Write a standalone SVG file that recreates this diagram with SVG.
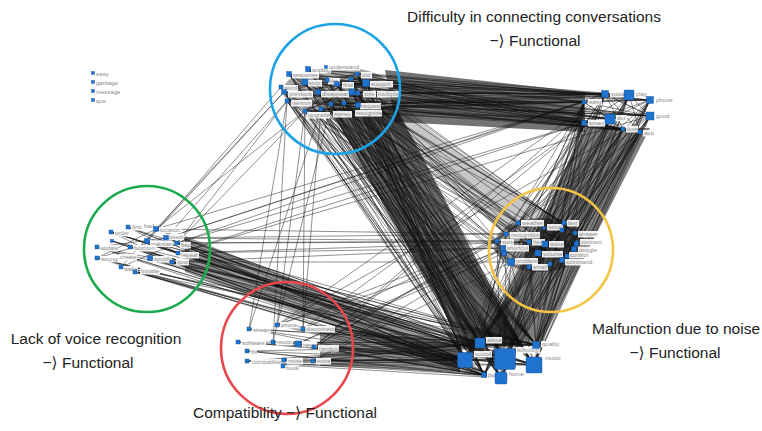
<svg xmlns="http://www.w3.org/2000/svg" width="762" height="431" viewBox="0 0 762 431">
<style>
.e{fill:none;stroke:#111;stroke-width:.55;stroke-opacity:.85;stroke-linejoin:bevel}
.d{fill:#000;stroke:none}
.n{fill:#1f73cf;stroke:#134f93;stroke-width:.4}
.lb{fill:#fff;fill-opacity:.92}
.t{font-family:"Liberation Sans",Arial,sans-serif;font-size:6px;fill:#8a8a8a}
.h{font-family:"Liberation Sans","DejaVu Sans","Noto Sans CJK KR",sans-serif;font-size:15.5px;fill:#222;text-anchor:middle}
.c{fill:none;stroke-width:2.6}
</style>
<rect width="762" height="431" fill="#fff"/>
<g id="connectors">
<path class="d" opacity=".55" d="M385 70L585 92L585 132L395 122Z"/>
<path class="d" opacity=".6" d="M332 112L395 105L522 345L464 348Z"/>
<path class="d" opacity=".5" d="M585 128L650 128L540 345L482 345Z"/>
<path class="d" opacity=".22" d="M370 112L405 112L560 225L500 230Z"/>
<path class="d" opacity=".4" d="M185 236L460 345L460 372L185 272Z"/>
<path class="d" opacity=".42" d="M320 325L460 345L460 372L320 366Z"/>
<ellipse class="d" opacity=".4" cx="540" cy="245" rx="46" ry="27"/>
<ellipse class="d" opacity=".35" cx="338" cy="91" rx="55" ry="24"/>
<path class="e" d="M305 82L465 360 327 80 480 343 337 84 505 359 351 79 534 365 366 83 501 378 318 92 536 345 352 92 484 375 358 92 465 360 331 104 480 343 344 103 505 359 358 105 534 365 305 111 501 378 321 109 536 345 287 101 484 375 284 92 465 360 289 74 480 343 308 69 505 359 357 74 534 365 305 82 501 378 327 80 536 345 337 84 484 375 351 79 465 360 366 83 480 343 318 92 505 359 352 92 534 365 358 92 501 378 331 104 536 345 344 103 484 375 358 105 465 360 305 111 480 343 321 109 505 359 287 101 534 365 284 92 501 378 289 74 536 345 308 69 484 375 357 74 465 360 305 82 480 343 327 80 505 359 337 84 534 365 351 79 501 378 366 83 536 345 318 92 484 375 352 92 465 360 358 92 480 343 331 104 505 359 344 103 534 365 358 105 501 378 305 111 536 345 321 109 484 375 287 101 465 360 284 92 480 343 289 74 505 359 308 69 534 365 357 74 501 378"/>
<path class="e" d="M605 94L465 360 629 95 480 343 650 100 505 359 584 102 534 365 650 116 501 378 584 123 536 345 610 119 484 375 623 129 465 360 640 132 480 343 605 94 505 359 629 95 534 365 650 100 501 378 584 102 536 345 650 116 484 375 584 123 465 360 610 119 480 343 623 129 505 359 640 132 534 365 605 94 501 378 629 95 536 345 650 100 484 375 584 102 465 360 650 116 480 343 584 123 505 359 610 119 534 365 623 129 501 378 640 132 536 345"/>
<path class="e" d="M305 82L605 94 327 80 629 95 337 84 650 100 351 79 584 102 366 83 650 116 318 92 584 123 352 92 610 119 358 92 623 129 331 104 640 132 344 103 605 94 358 105 629 95 305 111 650 100 321 109 584 102 287 101 650 116 284 92 584 123 289 74 610 119 308 69 623 129 357 74 640 132 305 82 650 116 327 80 584 123 337 84 610 119 351 79 623 129 366 83 640 132 318 92 605 94 352 92 629 95 358 92 650 100 331 104 584 102 344 103 650 116 358 105 584 123 305 111 610 119 321 109 623 129 287 101 640 132 284 92 605 94 289 74 629 95 308 69 650 100 357 74 584 102"/>
<path class="e" d="M305 82L518 223 327 80 564 223 337 84 506 234 351 79 575 233 366 83 497 241 318 92 529 242 352 92 545 244 358 92 574 249 331 104 503 248 344 103 538 253 358 105 567 256 305 111 511 262 321 109 562 260 287 101 529 267 284 92 518 223 289 74 564 223 308 69 506 234 357 74 575 233"/>
<path class="e" d="M605 94L518 223 629 95 564 223 650 100 506 234 584 102 575 233 650 116 497 241 584 123 529 242 610 119 545 244 623 129 574 249 640 132 503 248 605 94 538 253 629 95 567 256 650 100 511 262 584 102 562 260 650 116 529 267 584 123 518 223 610 119 564 223 623 129 506 234 640 132 575 233"/>
<path class="e" d="M518 223L465 360 564 223 480 343 506 234 505 359 575 233 534 365 497 241 501 378 529 242 536 345 545 244 484 375 574 249 465 360 503 248 480 343 538 253 505 359 567 256 534 365 511 262 501 378 562 260 536 345 529 267 484 375"/>
<path class="e" d="M128 227L465 360 156 229 480 343 111 232 505 359 166 238 534 365 112 241 501 378 147 241 536 345 177 243 484 375 97 247 465 360 130 247 480 343 178 253 505 359 97 258 534 365 150 258 501 378 172 262 536 345 121 267 484 375 135 272 465 360 128 227 480 343 156 229 505 359 111 232 534 365 166 238 501 378 112 241 536 345 147 241 484 375 177 243 465 360 97 247 480 343 130 247 505 359 178 253 534 365 97 258 501 378 150 258 536 345 172 262 484 375 121 267 465 360 135 272 480 343"/>
<path class="e" d="M156 229L506 234 166 238 497 241 177 243 529 242 178 253 503 248 172 262 511 262"/>
<path class="e" d="M166 238L287 101 177 243 305 111 156 229 284 92 147 241 281 87"/>
<path class="e" d="M156 229L584 102 166 238 605 94 177 243 584 123 178 253 650 116"/>
<path class="e" d="M277 325L465 360 249 329 480 343 303 329 505 359 238 342 534 365 273 342 501 378 297 344 536 345 314 347 484 375 247 351 465 360 247 361 480 343 284 360 505 359 313 361 534 365 283 365 501 378 277 325 536 345 249 329 484 375 303 329 465 360 238 342 480 343 273 342 505 359 297 344 534 365 314 347 501 378 247 351 536 345 247 361 484 375 284 360 465 360 313 361 480 343 283 365 505 359"/>
<path class="e" d="M303 329L506 234 314 347 497 241 277 325 529 242 297 344 503 248 313 361 511 262"/>
<path class="e" d="M303 329L584 123 314 347 605 94 277 325 650 116"/>
<path class="e" d="M277 325L305 111 303 329 321 109 249 329 287 101 273 342 331 104"/>
<path class="e" d="M289 74L358 105 308 69 344 103 305 82 366 83 284 92 357 74 287 101 352 92 305 111 337 84 281 87 366 83 318 92 358 92 321 109 351 79 331 104 289 74 366 83 305 111 357 74 281 87 344 103 308 69 358 92"/>
<path class="e" d="M584 102L650 116 605 94 640 132 629 95 584 123 650 100 610 119 584 102 623 129 605 94 650 116 629 95"/>
<path class="e" d="M518 223L567 256 564 223 503 248 506 234 574 249 575 233 511 262 497 241 562 260 529 242 575 233 545 244 497 241 538 253 564 223 529 267 518 223 576 244 504 253 562 230 511 262 567 256 497 241"/>
<path class="e" d="M128 227L178 253 111 232 172 262 97 247 166 238 97 258 156 229 121 267 177 243"/>
</g>
<g id="n-easy0"><rect class="n" x="91.5" y="71.5" width="3" height="3"/><text class="t" x="96" y="75.5">easy</text></g>
<g id="n-garbage"><rect class="n" x="91.5" y="80.5" width="3" height="3"/><text class="t" x="96" y="84.5">garbage</text></g>
<g id="n-message"><rect class="n" x="91.5" y="89.5" width="3" height="3"/><text class="t" x="96" y="93.5">message</text></g>
<g id="n-que"><rect class="n" x="91.5" y="98.5" width="3" height="3"/><text class="t" x="96" y="102.5">que</text></g>

<g id="n-unplug"><rect class="lb" x="311" y="67" width="20" height="6.5"/><rect class="n" x="305.5" y="66.5" width="5" height="5"/><text class="t" x="312" y="72">unplug</text></g>
<g id="n-understand"><rect class="lb" x="328" y="64" width="32" height="6.5"/><rect class="n" x="324.5" y="65.5" width="3" height="3"/><text class="t" x="329" y="69">understand</text></g>
<g id="n-response"><rect class="lb" x="292" y="72" width="27" height="6.5"/><rect class="n" x="286.5" y="71.5" width="5" height="5"/><text class="t" x="293" y="77">response</text></g>
<g id="n-stop"><rect class="lb" x="308" y="80" width="14" height="6.5"/><rect class="n" x="302" y="79" width="6" height="6"/><text class="t" x="309" y="85">stop</text></g>
<g id="n-like"><rect class="lb" x="328" y="78" width="12" height="6.5"/><rect class="n" x="325" y="78" width="4" height="4"/><text class="t" x="329" y="83">like</text></g>
<g id="n-word"><rect class="lb" x="283" y="85" width="15" height="6.5"/><rect class="n" x="279" y="85" width="4" height="4"/><text class="t" x="284" y="90">word</text></g>
<g id="n-find"><rect class="lb" x="342" y="82" width="12" height="6.5"/><rect class="n" x="334.5" y="81.5" width="5" height="5"/><text class="t" x="343" y="87">find</text></g>
<g id="n-old"><rect class="lb" x="361" y="72" width="11" height="6.5"/><rect class="n" x="355" y="72" width="4" height="4"/><text class="t" x="362" y="77">old</text></g>
<g id="n-b1"><rect class="n" x="349" y="77" width="4" height="4"/></g>
<g id="n-support"><rect class="lb" x="370" y="81" width="23" height="6.5"/><rect class="n" x="362.5" y="79.5" width="7" height="7"/><text class="t" x="371" y="86">support</text></g>
<g id="n-previous"><rect class="lb" x="288" y="91" width="25" height="6.5"/><rect class="n" x="281.5" y="89.5" width="5" height="5"/><text class="t" x="289" y="96">previous</text></g>
<g id="n-disappear"><rect class="lb" x="321" y="91" width="28" height="6.5"/><rect class="n" x="315.5" y="89.5" width="5" height="5"/><text class="t" x="322" y="96">disappear</text></g>
<g id="n-b2"><rect class="n" x="349" y="89" width="6" height="6"/></g>
<g id="n-size"><rect class="lb" x="363" y="91" width="13" height="6.5"/><rect class="n" x="356" y="91" width="4" height="4"/><text class="t" x="364" y="96">size</text></g>
<g id="n-multiple"><rect class="lb" x="377" y="91" width="23" height="6.5"/><text class="t" x="378" y="96">multiple</text></g>
<g id="n-version"><rect class="lb" x="291" y="100" width="21" height="6.5"/><rect class="n" x="285" y="99" width="4" height="4"/><text class="t" x="292" y="105">version</text></g>
<g id="n-b3"><rect class="n" x="329" y="102" width="4" height="4"/></g>
<g id="n-b4"><rect class="n" x="342" y="101" width="4" height="4"/></g>
<g id="n-request"><rect class="lb" x="360" y="103" width="21" height="6.5"/><rect class="n" x="355.5" y="102.5" width="5" height="5"/><text class="t" x="361" y="108">request</text></g>
<g id="n-upgrade"><rect class="lb" x="307" y="112" width="23" height="6.5"/><rect class="n" x="303" y="109" width="4" height="4"/><text class="t" x="308" y="117">upgrade</text></g>
<g id="n-stereo"><rect class="lb" x="333" y="111" width="19" height="6.5"/><rect class="n" x="319" y="107" width="4" height="4"/><text class="t" x="334" y="116">stereo</text></g>
<g id="n-recognize"><rect class="lb" x="355" y="110" width="27" height="6.5"/><text class="t" x="356" y="115">recognize</text></g>

<g id="n-voice"><rect class="lb" x="610" y="91" width="16" height="6.5"/><rect class="n" x="601.5" y="90.5" width="7" height="7"/><text class="t" x="611" y="96">voice</text></g>
<g id="n-play"><rect class="lb" x="635" y="91" width="13" height="6.5"/><rect class="n" x="624" y="90" width="10" height="10" rx="1"/><text class="t" x="636" y="96">play</text></g>
<g id="n-phone"><rect class="lb" x="655" y="97" width="18" height="6.5"/><rect class="n" x="646.5" y="96.5" width="7" height="7"/><text class="t" x="656" y="102">phone</text></g>
<g id="n-easy"><rect class="lb" x="588" y="99" width="14" height="6.5"/><rect class="n" x="582" y="100" width="4" height="4"/><text class="t" x="589" y="104">easy</text></g>
<g id="n-good"><rect class="lb" x="655" y="113" width="15" height="6.5"/><rect class="n" x="646" y="112" width="8" height="8"/><text class="t" x="656" y="118">good</text></g>
<g id="n-smart"><rect class="lb" x="588" y="120" width="17" height="6.5"/><rect class="n" x="581.5" y="120.5" width="5" height="5"/><text class="t" x="589" y="125">smart</text></g>
<g id="n-dot"><rect class="lb" x="616" y="115" width="11" height="6.5"/><rect class="n" x="605" y="114" width="10" height="10" rx="1"/><text class="t" x="617" y="120">dot</text></g>
<g id="n-love"><rect class="lb" x="626" y="126" width="12" height="6.5"/><rect class="n" x="621" y="127" width="4" height="4"/><text class="t" x="627" y="131">love</text></g>
<g id="n-app"><rect class="lb" x="643" y="130" width="12" height="6.5"/><rect class="n" x="638" y="130" width="4" height="4"/><text class="t" x="644" y="135">app</text></g>

<g id="n-weather"><rect class="lb" x="521" y="220" width="23" height="6.5"/><rect class="n" x="516" y="221" width="4" height="4"/><text class="t" x="522" y="225">weather</text></g>
<g id="n-setup"><rect class="lb" x="547" y="224" width="16" height="6.5"/><rect class="n" x="542.5" y="226.5" width="3" height="3"/><text class="t" x="548" y="229">setup</text></g>
<g id="n-last"><rect class="lb" x="567" y="220" width="12" height="6.5"/><rect class="n" x="562" y="221" width="4" height="4"/><text class="t" x="568" y="225">last</text></g>
<g id="n-y1"><rect class="n" x="560" y="228" width="4" height="4"/></g>
<g id="n-recognition"><rect class="lb" x="510" y="232" width="30" height="6.5"/><rect class="n" x="504" y="232" width="4" height="4"/><text class="t" x="511" y="237">recognition</text></g>
<g id="n-answer"><rect class="lb" x="578" y="231" width="20" height="6.5"/><rect class="n" x="573" y="231" width="4" height="4"/><text class="t" x="579" y="236">answer</text></g>
<g id="n-connect"><rect class="lb" x="580" y="239" width="21" height="6.5"/><rect class="n" x="575.5" y="240.5" width="3" height="3"/><text class="t" x="581" y="244">connect</text></g>
<g id="n-sure"><rect class="lb" x="501" y="239" width="13" height="6.5"/><rect class="n" x="495" y="239" width="4" height="4"/><text class="t" x="502" y="244">sure</text></g>
<g id="n-hear"><rect class="lb" x="532" y="239" width="13" height="6.5"/><rect class="n" x="527" y="240" width="4" height="4"/><text class="t" x="533" y="244">hear</text></g>
<g id="n-issue"><rect class="lb" x="549" y="241" width="15" height="6.5"/><rect class="n" x="542" y="241" width="6" height="6"/><text class="t" x="550" y="246">issue</text></g>
<g id="n-y2"><rect class="n" x="574" y="242" width="4" height="4"/></g>
<g id="n-google"><rect class="lb" x="578" y="246.5" width="19" height="6.5"/><rect class="n" x="571.5" y="246.5" width="5" height="5"/><text class="t" x="579" y="251.5">google</text></g>
<g id="n-shortcut"><rect class="lb" x="506" y="245" width="23" height="6.5"/><rect class="n" x="500.5" y="245.5" width="5" height="5"/><text class="t" x="507" y="250">shortcut</text></g>
<g id="n-y3"><rect class="n" x="501.5" y="250.5" width="5" height="5"/></g>
<g id="n-volume"><rect class="lb" x="542" y="251" width="21" height="6.5"/><rect class="n" x="535" y="250" width="6" height="6"/><text class="t" x="543" y="256">volume</text></g>
<g id="n-control"><rect class="lb" x="569" y="252" width="20" height="6.5"/><rect class="n" x="565" y="254" width="4" height="4"/><text class="t" x="570" y="257">control</text></g>
<g id="n-problem"><rect class="lb" x="515" y="258" width="23" height="6.5"/><rect class="n" x="507.5" y="258.5" width="7" height="7"/><text class="t" x="516" y="263">problem</text></g>
<g id="n-command"><rect class="lb" x="565" y="259" width="26" height="6.5"/><rect class="n" x="559.5" y="257.5" width="5" height="5"/><text class="t" x="566" y="264">command</text></g>
<g id="n-small"><rect class="lb" x="532" y="264" width="16" height="6.5"/><rect class="n" x="527" y="265" width="4" height="4"/><text class="t" x="533" y="269">small</text></g>
<g id="n-y4"><rect class="n" x="548" y="262" width="4" height="4"/></g>

<g id="n-first"><rect class="lb" x="131" y="224" width="11" height="6.5"/><rect class="n" x="126" y="225" width="4" height="4"/><text class="t" x="132" y="229">first</text></g>
<g id="n-had"><rect class="lb" x="143" y="223" width="11" height="6.5"/><text class="t" x="144" y="228">had</text></g>
<g id="n-location"><rect class="lb" x="159" y="227" width="23" height="6.5"/><rect class="n" x="153.5" y="226.5" width="5" height="5"/><text class="t" x="160" y="232">location</text></g>
<g id="n-order"><rect class="lb" x="114" y="230" width="16" height="6.5"/><rect class="n" x="109" y="230" width="4" height="4"/><text class="t" x="115" y="235">order</text></g>
<g id="n-touch"><rect class="lb" x="168" y="234" width="16" height="6"/><rect class="n" x="163.5" y="235.5" width="5" height="5"/><text class="t" x="169" y="238.5">touch</text></g>
<g id="n-g1"><rect class="n" x="110.5" y="239.5" width="3" height="3"/></g>
<g id="n-maintain"><rect class="lb" x="150" y="240.5" width="23" height="6.5"/><rect class="n" x="144.5" y="238.5" width="5" height="5"/><text class="t" x="151" y="245.5">maintain</text></g>
<g id="n-bad"><rect class="lb" x="180" y="242" width="11" height="6.5"/><rect class="n" x="175" y="241" width="4" height="4"/><text class="t" x="181" y="247">bad</text></g>
<g id="n-update"><rect class="lb" x="99" y="245" width="19" height="6.5"/><rect class="n" x="95" y="245" width="4" height="4"/><text class="t" x="100" y="250">update</text></g>
<g id="n-function"><rect class="lb" x="133" y="245" width="23" height="6.5"/><rect class="n" x="128" y="245" width="4" height="4"/><text class="t" x="134" y="250">function</text></g>
<g id="n-repeat"><rect class="lb" x="180" y="252" width="19" height="6.5"/><rect class="n" x="176" y="251" width="4" height="4"/><text class="t" x="181" y="257">repeat</text></g>
<g id="n-wrong"><rect class="lb" x="100" y="256" width="17" height="6.5"/><rect class="n" x="95" y="256" width="4" height="4"/><text class="t" x="101" y="261">wrong</text></g>
<g id="n-create"><rect class="lb" x="119" y="254" width="18" height="6.5"/><text class="t" x="120" y="259">create</text></g>
<g id="n-spotify"><rect class="lb" x="153" y="256" width="19" height="6.5"/><rect class="n" x="147.5" y="255.5" width="5" height="5"/><text class="t" x="154" y="261">spotify</text></g>
<g id="n-poor"><rect class="lb" x="176" y="259" width="13" height="6.5"/><rect class="n" x="170" y="260" width="4" height="4"/><text class="t" x="177" y="264">poor</text></g>
<g id="n-wake"><rect class="lb" x="123" y="266" width="15" height="6.5"/><rect class="n" x="119" y="265" width="4" height="4"/><text class="t" x="124" y="271">wake</text></g>
<g id="n-trouble"><rect class="lb" x="140" y="268" width="20" height="6.5"/><rect class="n" x="133" y="270" width="4" height="4"/><text class="t" x="141" y="273">trouble</text></g>

<g id="n-phone2"><rect class="lb" x="280" y="322" width="18" height="6.5"/><rect class="n" x="275" y="323" width="4" height="4"/><text class="t" x="281" y="327">phone</text></g>
<g id="n-stream"><rect class="lb" x="252" y="327" width="19" height="6.5"/><rect class="n" x="247" y="327" width="4" height="4"/><text class="t" x="253" y="332">stream</text></g>
<g id="n-disconnect"><rect class="lb" x="305" y="326" width="30" height="6.5"/><rect class="n" x="301" y="327" width="4" height="4"/><text class="t" x="306" y="331">disconnect</text></g>
<g id="n-software"><rect class="lb" x="241" y="340" width="25" height="6.5"/><rect class="n" x="236" y="340" width="4" height="4"/><text class="t" x="242" y="345">software</text></g>
<g id="n-instruction"><rect class="lb" x="276" y="339" width="17" height="6.5"/><rect class="n" x="271" y="340" width="4" height="4"/><text class="t" x="277" y="344" textLength="15" lengthAdjust="spacingAndGlyphs">instruction</text></g>
<g id="n-never"><rect class="lb" x="302" y="341" width="15" height="6.5"/><rect class="n" x="295" y="341" width="6" height="6"/><text class="t" x="303" y="346.5">never</text></g>
<g id="n-random"><rect class="lb" x="318" y="345" width="21" height="6.5"/><rect class="n" x="312" y="345" width="4" height="4"/><text class="t" x="319" y="350.5">random</text></g>
<g id="n-fix"><rect class="lb" x="250" y="349" width="7" height="6.5"/><rect class="n" x="245" y="349" width="4" height="4"/><text class="t" x="251" y="354">fix</text></g>
<g id="n-compatible"><rect class="lb" x="251" y="359" width="30" height="6.5"/><rect class="n" x="245" y="359" width="4" height="4"/><text class="t" x="252" y="364">compatible</text></g>
<g id="n-noise"><rect class="lb" x="287" y="358" width="16" height="6.5"/><rect class="n" x="282" y="358" width="4" height="4"/><text class="t" x="288" y="363">noise</text></g>
<g id="n-extra"><rect class="lb" x="316" y="358" width="15" height="6.5"/><rect class="n" x="311" y="359" width="4" height="4"/><text class="t" x="317" y="363">extra</text></g>
<g id="n-book"><rect class="lb" x="285" y="365" width="14" height="6.5"/><rect class="n" x="281" y="364" width="4" height="4"/><text class="t" x="286" y="370">book</text></g>

<g id="n-alexa"><rect class="lb" x="486" y="337" width="16" height="6.5"/><rect class="n" x="475" y="338" width="10" height="10" rx="1"/><text class="t" x="487" y="342">alexa</text></g>
<g id="n-sound"><rect class="lb" x="474" y="351" width="18" height="6.5"/><rect class="n" x="457.5" y="352.5" width="15" height="15" rx="1.5"/><text class="t" x="475" y="356">sound</text></g>
<g id="n-technology"><rect class="lb" x="516" y="347" width="24" height="6.5"/><rect class="n" x="494.5" y="348.5" width="21" height="21" rx="2"/><text class="t" x="517" y="352" textLength="22" lengthAdjust="spacingAndGlyphs">technology</text></g>
<g id="n-quality"><rect class="lb" x="541" y="341" width="20" height="6.5"/><rect class="n" x="532.5" y="341.5" width="7" height="7"/><text class="t" x="542" y="346">quality</text></g>
<g id="n-music"><rect class="lb" x="544" y="355" width="17" height="6.5"/><rect class="n" x="526" y="357" width="16" height="16" rx="1.5"/><text class="t" x="545" y="360">music</text></g>
<g id="n-product"><rect class="lb" x="487" y="372" width="19" height="6.5"/><rect class="n" x="481.5" y="372.5" width="5" height="5"/><text class="t" x="488" y="377" textLength="17" lengthAdjust="spacingAndGlyphs">product</text></g>
<g id="n-home"><rect class="lb" x="508" y="371" width="16" height="6.5"/><rect class="n" x="495" y="372" width="12" height="12" rx="1.5"/><text class="t" x="509" y="376">home</text></g>

<g id="circles">
<circle class="c" cx="335" cy="89" r="65" stroke="#1ba3e6"/>
<circle class="c" cx="147" cy="249" r="63" stroke="#1cab4c"/>
<circle class="c" cx="287" cy="348" r="66" stroke="#e8484b"/>
<circle class="c" cx="551" cy="250" r="62" stroke="#f5c343"/>
</g>
<g id="captions">
<text class="h" x="534" y="22">Difficulty in connecting conversations</text>
<text class="h" x="535" y="46">−⟩ Functional</text>
<text class="h" x="96" y="344">Lack of voice recognition</text>
<text class="h" x="88" y="368">−⟩ Functional</text>
<text class="h" x="676" y="334">Malfunction due to noise</text>
<text class="h" x="675" y="358">−⟩ Functional</text>
<text class="h" x="285" y="418">Compatibility −⟩ Functional</text>
</g>
</svg>
